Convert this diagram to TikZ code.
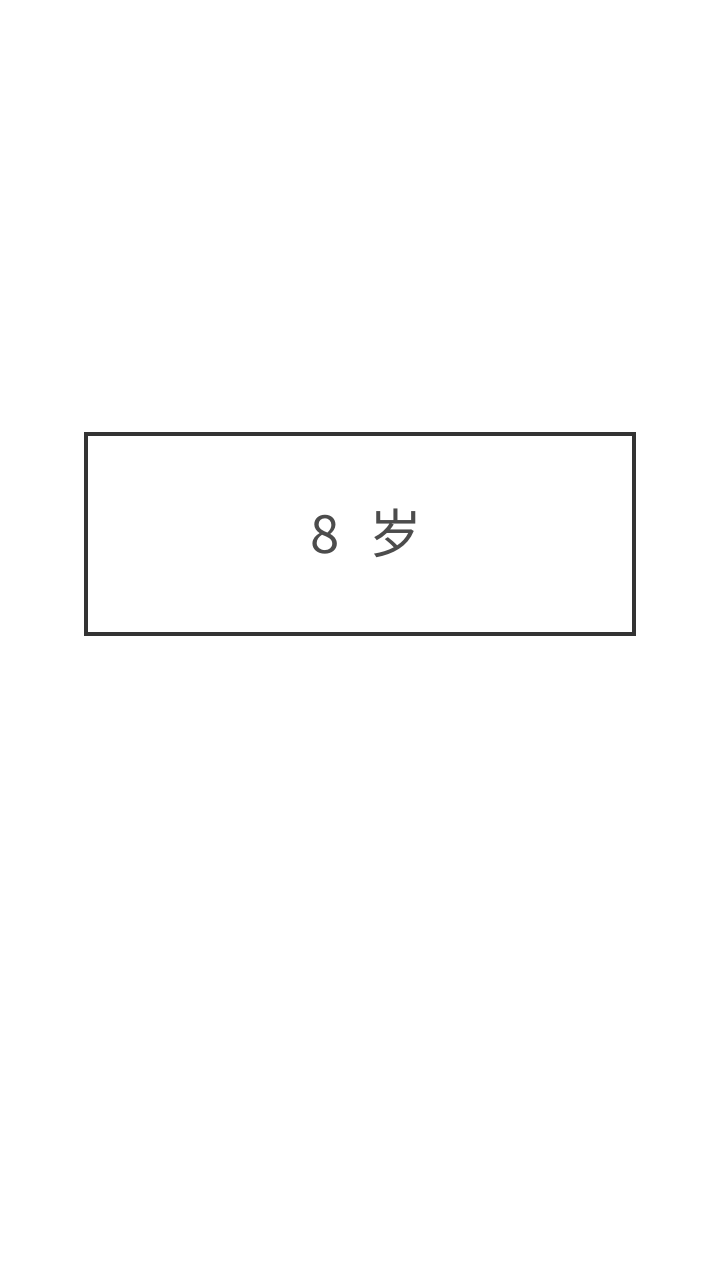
\documentclass[tikz,border=0pt]{standalone}
\usepackage{fontspec}
\newfontfamily\cjk{Noto Sans CJK SC}
\usepackage{tikz}
\usetikzlibrary{positioning}

\begin{document}
\begin{tikzpicture}[
  agebox/.style={draw=black!80,line width=1pt,minimum width=5.48cm,minimum height=2cm,inner sep=0pt,
    align=center,font=\cjk\fontsize{15}{18}\selectfont,text=black!70}
]
\useasboundingbox (0,0) rectangle (7.2,12.8);
\node[agebox] (age) at (3.6,7.46) {\raisebox{0.05cm}{\hspace{0.12cm}8\hspace{0.3cm}岁}};
\end{tikzpicture}
\end{document}
